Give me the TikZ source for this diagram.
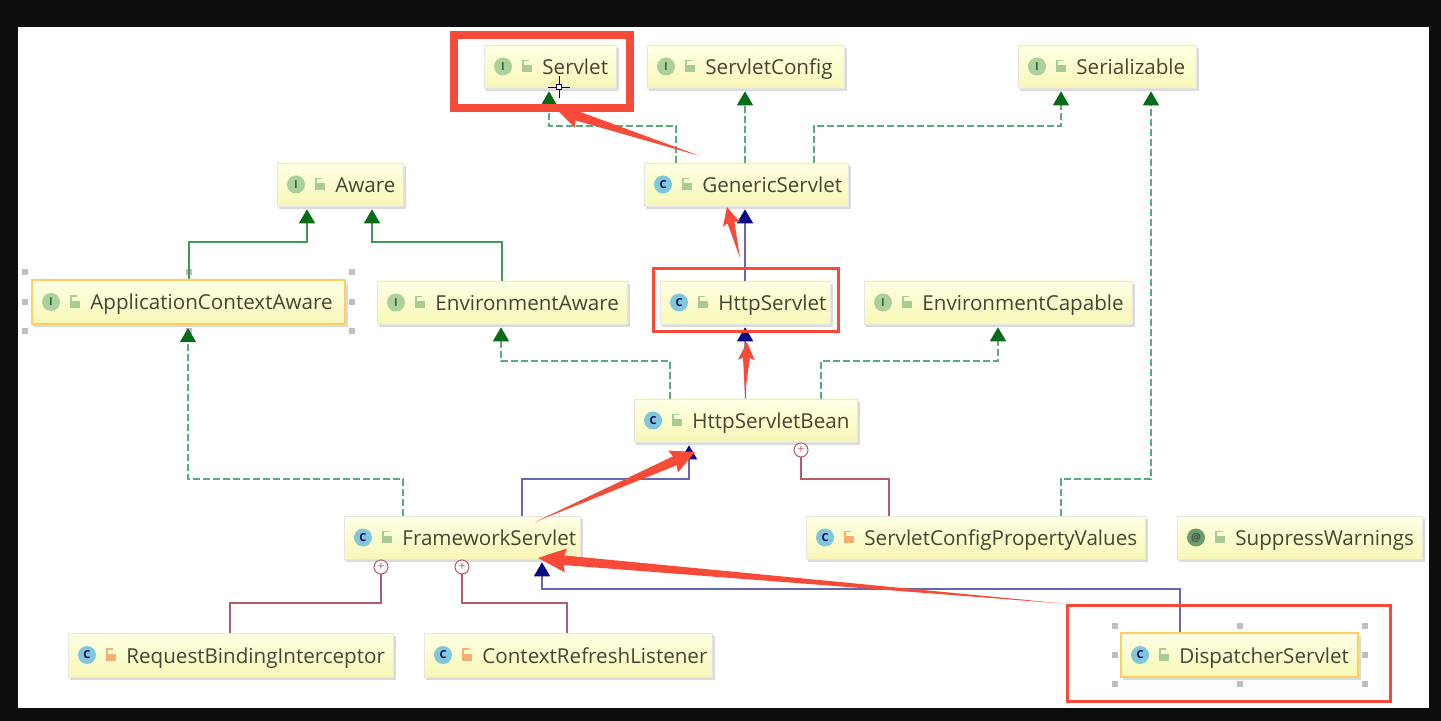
\documentclass[tikz,border=0pt]{standalone}
\usepackage{fontspec}
\setmainfont{Open Sans}
\usepackage{xcolor}
\usetikzlibrary{arrows.meta,calc}
\definecolor{cfimpl}{rgb}{0.36,0.66,0.50}
\definecolor{cfsolid}{rgb}{0.25,0.60,0.35}
\definecolor{cftipgreen}{rgb}{0.03,0.42,0.10}
\definecolor{cfextend}{rgb}{0.40,0.40,0.70}
\definecolor{cftipblue}{rgb}{0.03,0.03,0.52}
\definecolor{cfinner}{rgb}{0.70,0.36,0.42}
\definecolor{cfnote}{rgb}{0.97,0.29,0.22}
\definecolor{cfboxtop}{rgb}{1.00,1.00,0.90}
\definecolor{cfboxbot}{rgb}{0.97,0.97,0.72}
\definecolor{cfsel}{rgb}{0.98,0.82,0.36}
\definecolor{cficonI}{rgb}{0.68,0.81,0.60}
\definecolor{cficonC}{rgb}{0.50,0.78,0.86}
\definecolor{cficonA}{rgb}{0.42,0.62,0.42}
\definecolor{cflock}{rgb}{0.66,0.80,0.58}
\definecolor{cfprivate}{rgb}{0.96,0.68,0.45}
\definecolor{cftext}{rgb}{0.27,0.27,0.20}
\tikzset{
  umlbox/.style={draw=gray!20, line width=0.3pt, top color=cfboxtop, bottom color=cfboxbot, inner sep=0pt},
  umlsel/.style={umlbox, draw=cfsel, line width=1.1pt},
  umllabel/.style={anchor=west, inner sep=0pt, text=cftext, text height=7.5pt, text depth=2pt, font=\fontsize{10.3}{12}\selectfont},
  iconbase/.style={circle, minimum size=9pt, inner sep=0pt, font=\fontsize{5.5}{6}\selectfont\bfseries},
  iconI/.style={iconbase, fill=cficonI, text=cfsolid!70!black},
  iconC/.style={iconbase, fill=cficonC, text=cftipblue!70!black},
  iconA/.style={iconbase, fill=cficonA, text=black!70},
  implarrow/.style={cfimpl, line width=0.7pt, dash pattern=on 3.5pt off 1.5pt, shorten >=1.5pt, -{Triangle[length=7pt,width=8pt,color=cftipgreen]}},
  solidarrow/.style={cfsolid, line width=0.7pt, shorten >=1.5pt, -{Triangle[length=7pt,width=8pt,color=cftipgreen]}},
  extarrow/.style={cfextend, line width=0.7pt, shorten >=1.5pt, -{Triangle[length=7pt,width=8pt,color=cftipblue]}},
  innerline/.style={cfinner, line width=0.7pt},
  innermark/.style={circle, draw=cfinner, fill=white, line width=0.5pt, minimum size=7pt, inner sep=0pt, font=\fontsize{6}{6}\selectfont, text=cfinner},
  notebox/.style={draw=cfnote, line width=1.5pt},
  handle/.style={fill=gray!50, minimum size=3pt, inner sep=0pt},
}
\newcommand{\wedgearrow}[4]{% tail, tip, head length, head half width
  \fill[cfnote] (#1) -- ($(#2)!#3!(#1)!0.4*#4!90:(#1)$) -- ($(#2)!#3+1pt!(#1)!#4!90:(#1)$) -- (#2)
    -- ($(#2)!#3+1pt!(#1)!#4!-90:(#1)$) -- ($(#2)!#3!(#1)!0.4*#4!-90:(#1)$) -- cycle;
}
\begin{document}
\begin{tikzpicture}[x=0.5pt, y=-0.5pt, >=Stealth, font=\small]
  \useasboundingbox (0,0) rectangle (1441,721);
  \fill[black!95] (0,0) rectangle (1441,721);
  \fill[white] (18,27) rectangle (1429,708);
  % selection handles
  \foreach \hx in {25,189,352} \foreach \hy in {272,302,331}
    \node[handle] (appsel-\hx-\hy) at (\hx,\hy) {};
  \foreach \hx in {1115,1240,1365} \foreach \hy in {626,655,684}
    \node[handle] (dispsel-\hx-\hy) at (\hx,\hy) {};
  % class boxes
  \foreach \nm/\xa/\ya/\xb/\yb/\kind/\letter/\lockc/\sty/\lbl in {
      servlet/484/45/616/88/iconI/I/cflock/umlbox/Servlet,
      servletconfig/647/45/844/88/iconI/I/cflock/umlbox/ServletConfig,
      serializable/1018/45/1196/88/iconI/I/cflock/umlbox/Serializable,
      aware/277/163/403/206/iconI/I/cflock/umlbox/Aware,
      genericservlet/644/163/848/206/iconC/C/cflock/umlbox/GenericServlet,
      appaware/32/280/345/324/iconI/I/cflock/umlsel/ApplicationContextAware,
      envaware/377/281/627/324/iconI/I/cflock/umlbox/EnvironmentAware,
      httpservlet/660/281/830/324/iconC/C/cflock/umlbox/HttpServlet,
      envcapable/864/281/1132/324/iconI/I/cflock/umlbox/EnvironmentCapable,
      servletbean/634/399/857/442/iconC/C/cflock/umlbox/HttpServletBean,
      framework/344/516/580/559/iconC/C/cflock/umlbox/FrameworkServlet,
      propvalues/806/516/1145/559/iconC/C/cfprivate/umlbox/ServletConfigPropertyValues,
      suppress/1177/516/1422/559/iconA/@/cflock/umlbox/SuppressWarnings,
      interceptor/68/633/393/677/iconC/C/cfprivate/umlbox/RequestBindingInterceptor,
      refresh/424/633/712/677/iconC/C/cfprivate/umlbox/ContextRefreshListener,
      dispatcher/1121/633/1358/677/iconC/C/cflock/umlsel/DispatcherServlet%
  } {
    \pgfmathsetmacro{\cx}{(\xa+\xb)/2}
    \pgfmathsetmacro{\cy}{(\ya+\yb)/2}
    \pgfmathsetmacro{\bw}{(\xb-\xa)*0.5}
    \pgfmathsetmacro{\bh}{(\yb-\ya)*0.5}
    \fill[gray!28] (\xa+2,\ya+3) rectangle (\xb+3,\yb+3);
    \node[\sty, minimum width=\bw pt, minimum height=\bh pt] (\nm) at (\cx,\cy) {};
    \node[\kind] (\nm-icon) at (\xa+19,\cy) {\letter};
    \fill[\lockc] (\xa+38,\cy-1) rectangle ++(10,7);
    \draw[\lockc, line width=0.6pt] (\xa+39,\cy-1) -- ++(0,-5) -- ++(6,0);
    \node[umllabel] (\nm-label) at (\xa+58,\cy+2.5) {\lbl};
  }
  % realization
  \draw[implarrow] (genericservlet.north -| 676,0) |- (549,126) -- (servlet.south -| 549,0);
  \draw[implarrow] (genericservlet.north -| 745,0) -- (servletconfig.south -| 745,0);
  \draw[implarrow] (genericservlet.north -| 814,0) |- (1061,126) -- (serializable.south -| 1061,0);
  \draw[implarrow] (servletbean.north -| 670,0) |- (501,361) -- (envaware.south -| 501,0);
  \draw[implarrow] (servletbean.north -| 821,0) |- (998,361) -- (envcapable.south -| 998,0);
  \draw[implarrow] (framework.north -| 403,0) |- (188,479) -- (appaware.south -| 188,0);
  \draw[implarrow] (propvalues.north -| 1061,0) |- (1151,479) -- (serializable.south -| 1151,0);
  % interface extension
  \draw[solidarrow] (appaware.north -| 189,0) |- (307,242) -- (aware.south -| 307,0);
  \draw[solidarrow] (envaware.north -| 502,0) |- (372,242) -- (aware.south -| 372,0);
  % class extension
  \draw[extarrow] (httpservlet.north -| 745,0) -- (genericservlet.south -| 745,0);
  \draw[extarrow] (servletbean.north) -- (httpservlet.south -| 745,0);
  \draw[extarrow] (framework.north -| 522,0) |- (689,479) -- (servletbean.south -| 689,0);
  \draw[extarrow] (dispatcher.north -| 1180,0) |- (542,589) -- (framework.south -| 542,0);
  % inner classes
  \node[innermark] (beanmark) at (801,450) {+};
  \node[innermark] (frameworkmark) at (381,567) {+};
  \node[innermark] (refreshmark) at (462,567) {+};
  \draw[innerline] (propvalues.north -| 889,0) |- (801,479) -- (beanmark);
  \draw[innerline] (interceptor.north -| 230,0) |- (381,603) -- (frameworkmark);
  \draw[innerline] (refresh.north -| 567,0) |- (462,603) -- (refreshmark);
  % annotations
  \node[draw=cfnote, line width=4pt, minimum width=88pt, minimum height=36.5pt, inner sep=0pt] (servletnote) at (541.5,71.5) {};
  \node[notebox, minimum width=92.5pt, minimum height=31.5pt, inner sep=0pt] (httpnote) at (745.5,300.5) {};
  \node[notebox, minimum width=161.5pt, minimum height=48pt, inner sep=0pt] (dispatchernote) at (1228.5,653) {};
  \coordinate (tailA) at (700,156);  \coordinate (tipA) at (556,109);
  \coordinate (tailB) at (740,258);  \coordinate (tipB) at (727,207);
  \coordinate (tailC) at (745,394);  \coordinate (tipC) at (747,342);
  \coordinate (tailD) at (535,522);  \coordinate (tipD) at (695,452);
  \coordinate (tailE) at (1068,604); \coordinate (tipE) at (538,558);
  \wedgearrow{tailA}{tipA}{11pt}{6pt}
  \wedgearrow{tailB}{tipB}{8pt}{4.4pt}
  \wedgearrow{tailC}{tipC}{8pt}{4.2pt}
  \wedgearrow{tailD}{tipD}{11pt}{6pt}
  \wedgearrow{tailE}{tipE}{13pt}{6pt}
  % cursor
  \node[draw=blue!50!black, fill=white, line width=0.3pt, minimum size=2.5pt, inner sep=0pt] (cursor) at (559,87) {};
  \draw[blue!50!black, line width=0.3pt] (cursor.west) -- ++(-8,0) (cursor.east) -- ++(8,0) (cursor.north) -- ++(0,-8) (cursor.south) -- ++(0,8);
\end{tikzpicture}
\end{document}
